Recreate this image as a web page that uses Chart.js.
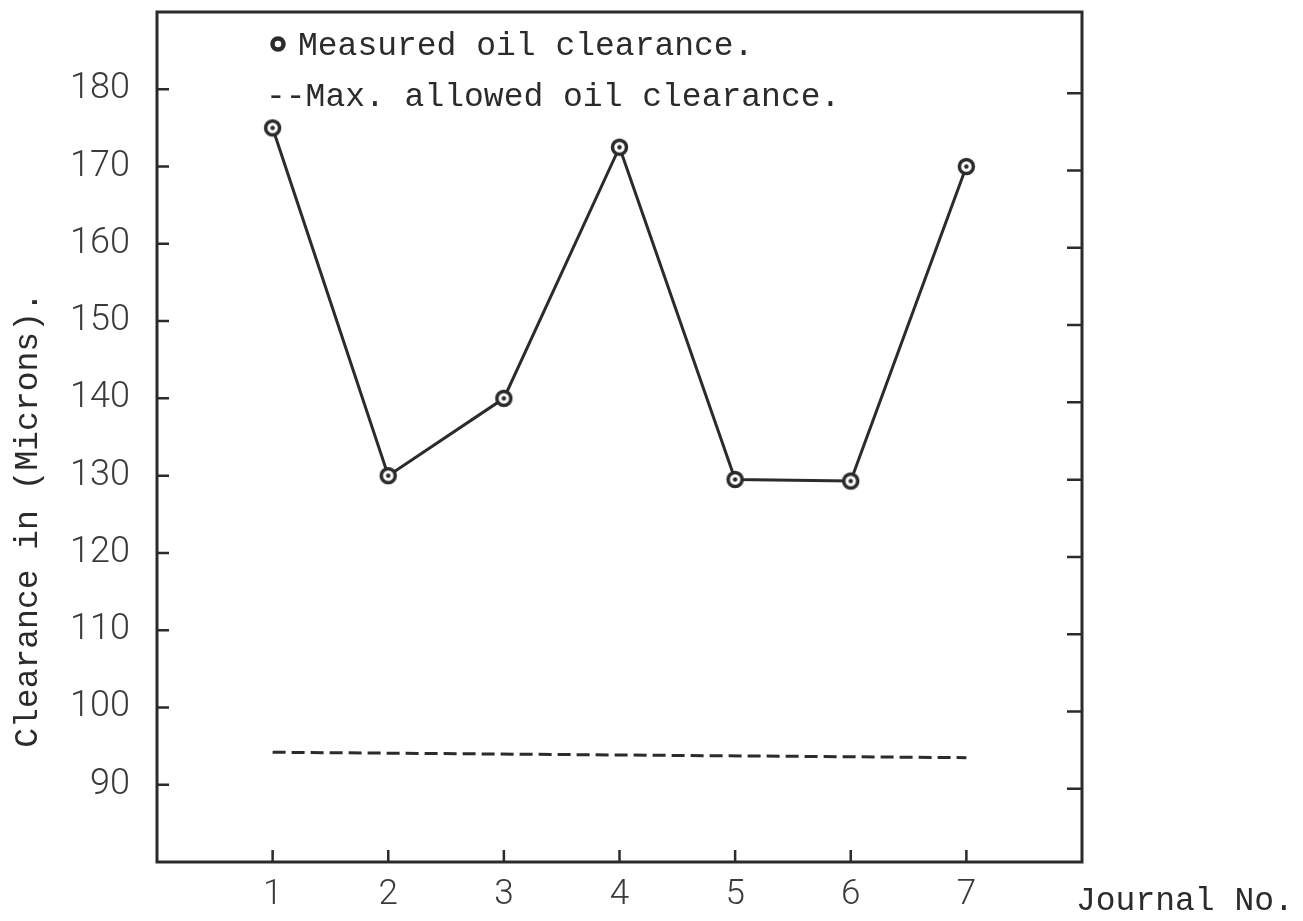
<!DOCTYPE html>
<html>
<head>
<meta charset="utf-8">
<script src="https://cdn.jsdelivr.net/npm/chart.js@4.4.1/dist/chart.umd.min.js"></script>
<style>
  html, body { margin: 0; padding: 0; background: #fff; }
  #wrap { width: 1303px; height: 921px; position: relative; }
</style>
</head>
<body>
<div id="wrap"><canvas id="chart" width="1303" height="921"></canvas></div>
<script>
// journal numbers and measured clearance (microns)
const journals = [1, 2, 3, 4, 5, 6, 7];
const measured = [175, 130, 140, 172.5, 129.5, 129.3, 170];
// max allowed clearance line, ends at journal 1 and 7
const allowedX = [1, 7];
const allowed = [94.2, 93.5];
const yTicks = [90, 100, 110, 120, 130, 140, 150, 160, 170, 180];

const legendLabels = ['Measured oil clearance.', '--Max. allowed oil clearance.'];
const xTitle = 'Journal No.';
const yTitle = 'Clearance in (Microns).';

const ink = '#2b2b2b';
const monoFont = '"Liberation Mono", "DejaVu Sans Mono", monospace';

// ring with a dot in the middle, like the hand-drawn markers
function makeMarker(r, w, dot) {
    const c = document.createElement('canvas');
    const s = Math.ceil((r + w) * 2 + 2);
    c.width = s; c.height = s;
    const g = c.getContext('2d');
    g.strokeStyle = ink;
    g.lineWidth = w;
    g.beginPath();
    g.arc(s / 2, s / 2, r, 0, Math.PI * 2);
    g.fillStyle = '#fff';
    g.fill();
    g.stroke();
    if (dot) {
        g.fillStyle = ink;
        g.beginPath();
        g.arc(s / 2, s / 2, dot, 0, Math.PI * 2);
        g.fill();
    }
    return c;
}
const marker = makeMarker(7, 3.5, 2.2);

const framePlugin = {
    id: 'frame',
    afterDatasetsDraw(chart) {
        const { ctx, chartArea: a, scales } = chart;
        ctx.save();
        ctx.strokeStyle = ink;
        ctx.lineWidth = 3;
        ctx.strokeRect(a.left, a.top, a.right - a.left, a.bottom - a.top);

        // inward ticks
        ctx.lineWidth = 2.5;
        ctx.beginPath();
        yTicks.forEach(v => {
            const y = scales.y.getPixelForValue(v);
            ctx.moveTo(a.left, y); ctx.lineTo(a.left + 12, y);
            ctx.moveTo(a.right, y + 4); ctx.lineTo(a.right - 15, y + 4);
        });
        journals.forEach(j => {
            const x = scales.x.getPixelForValue(j);
            ctx.moveTo(x, a.bottom); ctx.lineTo(x, a.bottom - 12);
        });
        ctx.stroke();

        // legend inside the plot
        const lx = a.left + 121, ly = a.top + 32;
        ctx.lineWidth = 4.5;
        ctx.beginPath();
        ctx.arc(lx, ly, 5.5, 0, Math.PI * 2);
        ctx.stroke();
        ctx.fillStyle = ink;
        ctx.font = '33px ' + monoFont;
        ctx.textBaseline = 'alphabetic';
        ctx.textAlign = 'left';
        ctx.fillText(legendLabels[0], lx + 20, ly + 11);
        ctx.fillText(legendLabels[1], lx - 12, ly + 62);

        // axis titles
        ctx.fillText(xTitle, 1076, 910);
        ctx.save();
        ctx.translate(37, 520);
        ctx.rotate(-Math.PI / 2);
        ctx.textAlign = 'center';
        ctx.fillText(yTitle, 0, 0);
        ctx.restore();
        ctx.restore();
    }
};

new Chart(document.getElementById('chart'), {
    type: 'line',
    data: {
        datasets: [
            {
                label: legendLabels[0],
                data: journals.map((j, i) => ({ x: j, y: measured[i] })),
                borderColor: ink,
                borderWidth: 3,
                pointStyle: marker,
                pointRadius: 9,
                tension: 0
            },
            {
                label: legendLabels[1],
                data: allowedX.map((j, i) => ({ x: j, y: allowed[i] })),
                borderColor: ink,
                borderWidth: 3,
                borderDash: [13, 6],
                pointRadius: 0,
                tension: 0
            }
        ]
    },
    options: {
        responsive: false,
        animation: false,
        layout: { padding: { left: 0, right: 221, top: 12, bottom: 0 } },
        plugins: {
            legend: { display: false },
            tooltip: { enabled: false }
        },
        scales: {
            x: {
                type: 'linear',
                min: 0,
                max: 8,
                afterFit: s => { s.height = 59; s.paddingLeft = 0; s.paddingRight = 0; },
                border: { display: false },
                grid: { display: false, drawTicks: false },
                ticks: {
                    stepSize: 1,
                    padding: 12,
                    color: '#3a3a3a',
                    font: { family: 'Roboto', size: 35, weight: '300' },
                    callback: v => journals.includes(v) ? String(v) : ''
                }
            },
            y: {
                min: 80,
                max: 190,
                afterFit: s => { s.width = 157; s.paddingTop = 0; s.paddingBottom = 0; },
                afterBuildTicks: s => { s.ticks = yTicks.map(v => ({ value: v })); },
                border: { display: false },
                grid: { display: false, drawTicks: false },
                ticks: {
                    padding: 27,
                    color: '#3a3a3a',
                    font: { family: 'Roboto', size: 36, weight: '300' }
                }
            }
        }
    },
    plugins: [framePlugin]
});
</script>
</body>
</html>
